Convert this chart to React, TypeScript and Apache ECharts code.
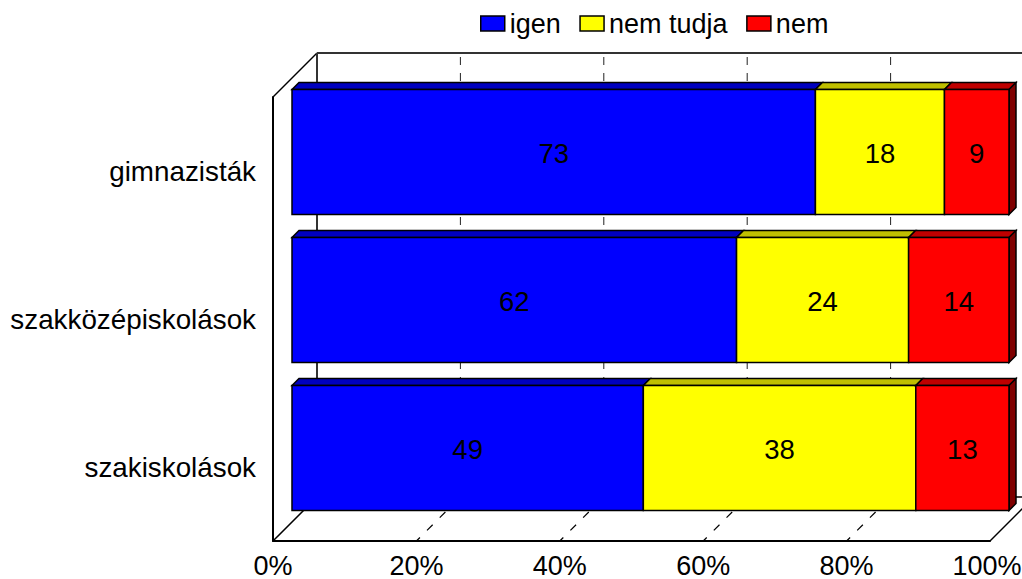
import React, { useEffect, useRef } from "react";
import * as echarts from "echarts";

const categories = ["gimnazisták", "szakközépiskolások", "szakiskolások"];
const igen = [73, 62, 49];
const nemTudja = [18, 24, 38];
const nem = [9, 14, 13];
const valueTicks = [0, 20, 40, 60, 80, 100];
const innerGridValues = [20, 40, 60, 80];

const FONT = "'Liberation Sans', Arial, sans-serif";
const WALL_DEPTH = 44;
const BAR_OFFSET = 19;
const BAR_DEPTH = 7;
const BAR_RATIO = 125 / 148;

function barSeries(name: string, values: number[], starts: number[], front: string, top: string, side: string, last: boolean) {
  return {
    type: "custom",
    name,
    z: 5,
    clip: false,
    itemStyle: { color: front, borderColor: "#000", borderWidth: 1 },
    data: values.map((v, i) => [starts[i], i, v]),
    encode: { x: 0, y: 1 },
    renderItem: (_: any, api: any) => {
      const start = api.value(0);
      const val = api.value(2);
      const [x0, yc] = api.coord([start, api.value(1)]);
      const [x1] = api.coord([start + val, api.value(1)]);
      const h = api.size([0, 1])[1] * BAR_RATIO;
      const l = x0 + BAR_OFFSET;
      const r = x1 + BAR_OFFSET;
      const t = yc - BAR_OFFSET - h / 2;
      const b = t + h;
      const d = BAR_DEPTH;
      const border = { stroke: "#000", lineWidth: 1.5 };
      const children: any[] = [
        { type: "polygon", shape: { points: [[l, t], [l + d, t - d], [r + d, t - d], [r, t]] }, style: { fill: top, ...border } },
      ];
      if (last) {
        children.push({ type: "polygon", shape: { points: [[r, t], [r + d, t - d], [r + d, b - d], [r, b]] }, style: { fill: side, ...border } });
      }
      children.push({ type: "rect", shape: { x: l, y: t, width: r - l, height: h }, style: { fill: front, ...border } });
      children.push({
        type: "text",
        style: { text: String(val), x: (l + r) / 2, y: (t + b) / 2 + 1, align: "center", verticalAlign: "middle", fill: "#000", font: `27.5px ${FONT}` },
      });
      return { type: "group", children };
    },
  };
}

export default function App() {
  const ref = useRef<HTMLDivElement>(null);
  useEffect(() => {
    document.body.style.margin = "0";
    document.body.style.overflow = "hidden";
    const chart = echarts.init(ref.current!, undefined, { renderer: "svg" });
    const starts2 = igen;
    const starts3 = igen.map((v, i) => v + nemTudja[i]);
    chart.setOption({
      animation: false,
      backgroundColor: "#fff",
      textStyle: { fontFamily: FONT },
      legend: {
        left: 475,
        top: 5,
        itemWidth: 24,
        itemHeight: 15,
        itemGap: 18.5,
        icon: "rect",
        selectedMode: false,
        data: ["igen", "nem tudja", "nem"],
        textStyle: { fontFamily: FONT, fontSize: 27, color: "#000" },
        itemStyle: { borderColor: "#000", borderWidth: 1.5 },
      },
      grid: { left: 273, top: 97, width: 717, height: 444, containLabel: false, outerBoundsMode: "none" },
      xAxis: {
        type: "value",
        min: 0,
        max: 100,
        interval: 20,
        axisLine: { show: true, onZero: false, lineStyle: { color: "#000", width: 2 } },
        axisTick: { show: false },
        splitLine: { show: false },
        axisLabel: {
          margin: 13.5,
          lineHeight: 22,
          fontFamily: FONT,
          fontSize: 27,
          color: "#000",
          customValues: valueTicks,
          formatter: (v: number) => (v === 100 ? `{last|${v}%}` : `${v}%`),
          rich: {
            last: { fontFamily: FONT, fontSize: 27, lineHeight: 22, color: "#000", padding: [0, 6, 0, 0] },
          },
        },
      },
      yAxis: {
        type: "category",
        inverse: true,
        data: categories,
        axisLine: { show: true, lineStyle: { color: "#000", width: 2 } },
        axisTick: { show: false },
        splitLine: { show: false },
        axisLabel: { margin: 17, fontFamily: FONT, fontSize: 27.8, color: "#000" },
      },
      series: [
        {
          type: "custom",
          name: "frame",
          z: 1,
          clip: false,
          silent: true,
          data: [[0, 0]],
          encode: { x: 0, y: 1 },
          renderItem: (params: any) => {
            const { x, y, width, height } = params.coordSys;
            const d = WALL_DEPTH;
            const bottom = y + height;
            const right = x + width;
            const front = { stroke: "#000", lineWidth: 1.5, fill: "none" };
            const back = { stroke: "#333", lineWidth: 2, fill: "none" };
            const lines = [
              { pts: [[x, y], [x + d, y - d]], style: front },
              { pts: [[x, bottom], [x + d, bottom - d]], style: front },
              { pts: [[right, bottom], [right + d, bottom - d]], style: front },
              { pts: [[x + d, y - d], [x + d, bottom - d]], style: back },
              { pts: [[x + d, bottom - d], [right + d, bottom - d]], style: front },
              { pts: [[x + d, y - d], [right + d, y - d]], style: back },
            ];
            return {
              type: "group",
              children: lines.map((l) => ({ type: "polyline", shape: { points: l.pts }, style: l.style })),
            };
          },
        },
        {
          type: "custom",
          name: "grid",
          z: 2,
          clip: false,
          silent: true,
          data: innerGridValues.map((v) => [v, 0]),
          encode: { x: 0, y: 1 },
          renderItem: (params: any, api: any) => {
            const { y, height } = params.coordSys;
            const bottom = y + height;
            const x = api.coord([api.value(0), 0])[0];
            const d = WALL_DEPTH;
            return {
              type: "group",
              children: [
                {
                  type: "polyline",
                  shape: { points: [[x, bottom], [x + d, bottom - d]] },
                  style: { stroke: "#000", lineWidth: 1.2, fill: "none", lineDash: [8, 10], lineDashOffset: 3 },
                },
                {
                  type: "polyline",
                  shape: { points: [[x + d, y - d], [x + d, bottom - d]] },
                  style: { stroke: "#222", lineWidth: 1, fill: "none", lineDash: [8, 8], lineDashOffset: 12 },
                },
              ],
            };
          },
        },
        barSeries("igen", igen, [0, 0, 0], "#0000ff", "#0000bf", "#00007f", false),
        barSeries("nem tudja", nemTudja, starts2, "#ffff00", "#bfbf00", "#7f7f00", false),
        barSeries("nem", nem, starts3, "#ff0000", "#bf0000", "#7f0000", true),
      ],
    });
    return () => chart.dispose();
  }, []);
  return <div ref={ref} style={{ width: 1022, height: 579 }} />;
}
